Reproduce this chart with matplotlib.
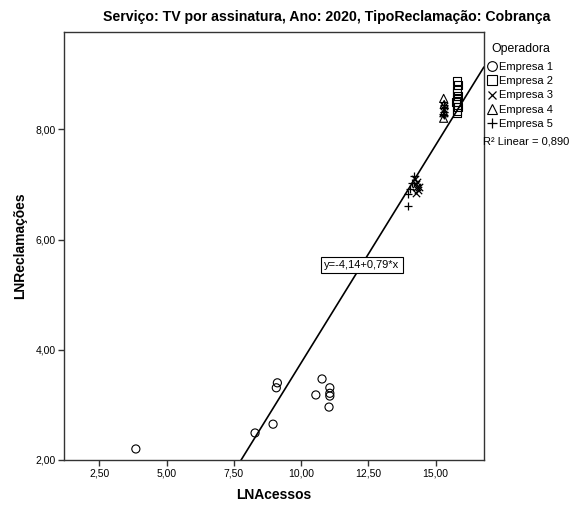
import matplotlib
matplotlib.use("Agg")
import matplotlib.pyplot as plt
import numpy as np
from matplotlib.lines import Line2D
from matplotlib.ticker import FuncFormatter

plt.rcParams['font.family'] = ['Liberation Sans', 'DejaVu Sans']

# Data (LNAcessos, LNReclamações) per operadora
e1_x = [3.86, 8.29, 8.96, 9.12, 9.08, 10.55, 10.78, 11.07, 11.07, 11.07, 11.04]
e1_y = [2.20, 2.49, 2.65, 3.40, 3.31, 3.18, 3.47, 3.31, 3.21, 3.16, 2.96]
e2_x = [15.80, 15.82, 15.80, 15.78, 15.82, 15.80, 15.76, 15.80, 15.82, 15.78, 15.80]
e2_y = [8.88, 8.80, 8.72, 8.66, 8.60, 8.55, 8.50, 8.45, 8.40, 8.34, 8.30]
e3_x = [14.22, 14.28, 14.32, 14.36, 14.26, 14.30, 14.40, 15.32, 15.30]
e3_y = [7.10, 7.00, 6.95, 6.90, 6.85, 7.05, 6.95, 8.36, 8.42]
e4_x = [15.30, 15.32, 15.30, 15.31]
e4_y = [8.56, 8.45, 8.20, 8.30]
e5_x = [13.99, 13.97, 14.05, 14.20, 14.12, 15.30, 15.30, 15.31, 15.30, 15.29]
e5_y = [6.60, 6.82, 6.92, 7.16, 7.02, 8.25, 8.32, 8.38, 8.44, 8.28]
labels = ["Empresa 1", "Empresa 2", "Empresa 3", "Empresa 4", "Empresa 5"]
intercept, slope = -4.14, 0.79
r2 = 0.890

fig = plt.figure(figsize=(5.73, 5.08), dpi=100)
ax = fig.add_axes([0.1122, 0.0945, 0.7320, 0.8431])

xlim = (1.20, 16.79)
ylim = (2.0, 9.77)
ax.set_xlim(*xlim)
ax.set_ylim(*ylim)

ms = 34
ax.scatter(e1_x, e1_y, s=ms, facecolors='none', edgecolors='black', linewidths=0.8, marker='o', zorder=3)
ax.scatter(e2_x, e2_y, s=ms, facecolors='none', edgecolors='black', linewidths=0.8, marker='s', zorder=3)
ax.scatter(e3_x, e3_y, s=ms - 6, c='black', linewidths=0.9, marker='x', zorder=3)
ax.scatter(e4_x, e4_y, s=ms, facecolors='none', edgecolors='black', linewidths=0.8, marker='^', zorder=3)
ax.scatter(e5_x, e5_y, s=ms + 6, c='black', linewidths=0.9, marker='+', zorder=3)

xs = np.array([(ylim[0] - intercept) / slope, xlim[1]])
ax.plot(xs, intercept + slope * xs, color='black', linewidth=1.2, zorder=2)

ax.text(12.26, 5.54, "y=-4,14+0,79*x", fontsize=8, ha='center', va='center',
        bbox=dict(boxstyle='square,pad=0.3', facecolor='white', edgecolor='black', linewidth=0.8), zorder=4)

ax.set_xticks([2.5, 5.0, 7.5, 10.0, 12.5, 15.0])
ax.set_yticks([2.0, 4.0, 6.0, 8.0])
fmt = FuncFormatter(lambda v, p: f"{v:.2f}".replace('.', ','))
ax.xaxis.set_major_formatter(fmt)
ax.yaxis.set_major_formatter(fmt)
ax.tick_params(labelsize=7.5, length=4, width=1, color='#333333', pad=2)
for s in ax.spines.values():
    s.set_linewidth(1.0)
    s.set_color('#333333')

ax.set_xlabel("LNAcessos", fontsize=10, fontweight='bold', labelpad=7)
ax.set_ylabel("LNReclamações", fontsize=10, fontweight='bold', labelpad=6)
fig.text(0.571, 0.966, "Serviço: TV por assinatura, Ano: 2020, TipoReclamação: Cobrança",
         fontsize=10.2, fontweight='bold', ha='center', va='center')

# Legend
handles = [
    Line2D([], [], linestyle='none', marker='o', markerfacecolor='none', markeredgecolor='black', markersize=7, markeredgewidth=0.8),
    Line2D([], [], linestyle='none', marker='s', markerfacecolor='none', markeredgecolor='black', markersize=7, markeredgewidth=0.8),
    Line2D([], [], linestyle='none', marker='x', color='black', markersize=5.5, markeredgewidth=0.9),
    Line2D([], [], linestyle='none', marker='^', markerfacecolor='none', markeredgecolor='black', markersize=7, markeredgewidth=0.8),
    Line2D([], [], linestyle='none', marker='+', color='black', markersize=7.5, markeredgewidth=0.9),
]
fig.text(0.857, 0.904, "Operadora", fontsize=8.8, ha='left', va='center')
leg = fig.legend(handles, labels, loc='upper left',
                 bbox_to_anchor=(0.851, 0.878), frameon=False, fontsize=8,
                 handlelength=0.8, handletextpad=0.25,
                 labelspacing=0.38, borderaxespad=0, borderpad=0)
fig.text(0.843, 0.722, "R² Linear = 0,890", fontsize=8, ha='left', va='center')

fig.savefig("out.png", dpi=100)
